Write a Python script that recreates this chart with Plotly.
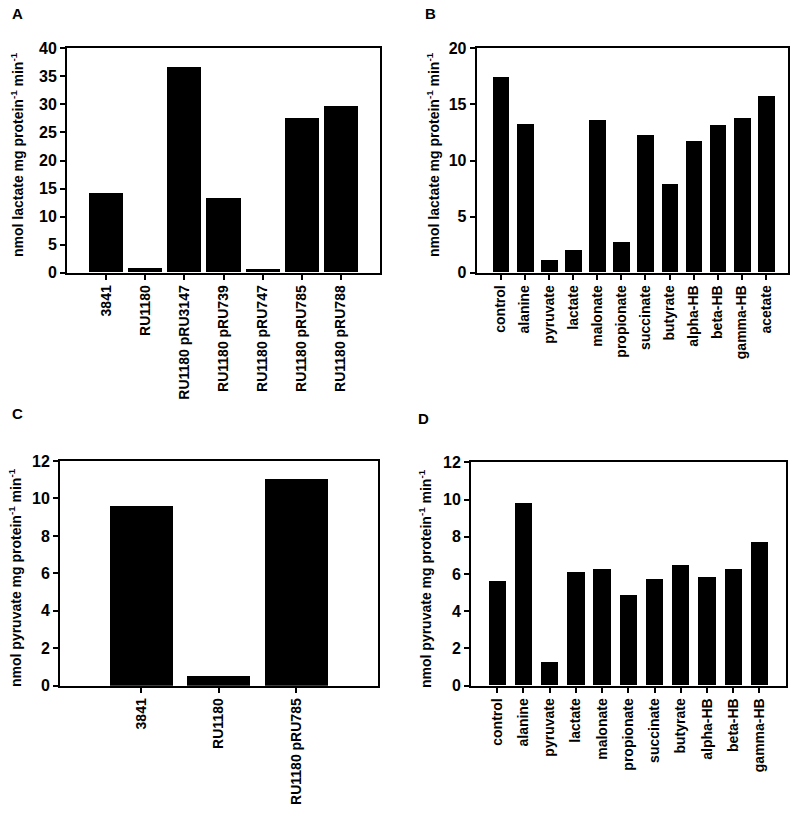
import plotly.graph_objects as go

# Panel A
a_cats = ["3841", "RU1180", "RU1180 pRU3147", "RU1180 pRU739", "RU1180 pRU747", "RU1180 pRU785", "RU1180 pRU788"]
a_vals = [14.1, 0.77, 36.7, 13.2, 0.65, 27.6, 29.7]
# Panel B
b_cats = ["control", "alanine", "pyruvate", "lactate", "malonate", "propionate", "succinate",
          "butyrate", "alpha-HB", "beta-HB", "gamma-HB", "acetate"]
b_vals = [17.4, 13.2, 1.1, 2.0, 13.55, 2.67, 12.27, 7.88, 11.74, 13.14, 13.76, 15.69]
# Panel C
c_cats = ["3841", "RU1180", "RU1180 pRU785"]
c_vals = [9.6, 0.53, 11.04]
# Panel D
d_cats = ["control", "alanine", "pyruvate", "lactate", "malonate", "propionate", "succinate",
          "butyrate", "alpha-HB", "beta-HB", "gamma-HB"]
d_vals = [5.59, 9.8, 1.25, 6.07, 6.27, 4.87, 5.71, 6.48, 5.84, 6.25, 7.70]

W, H = 800, 814
FONT = "Liberation Sans, Arial, sans-serif"

fig = go.Figure()

panels = [
    (a_cats, a_vals, 0.87, (67, 380), (48.3, 272.7), 40, 5, [-1, 7], "A", (17, 14),
     "nmol lactate mg protein<sup>-1</sup> min<sup>-1</sup>", (17, 155)),
    (b_cats, b_vals, 0.69, (476.7, 787.7), (48.3, 272.7), 20, 5, [-1, 11.9], "B", (430, 14),
     "nmol lactate mg protein<sup>-1</sup> min<sup>-1</sup>", (433, 155)),
    (c_cats, c_vals, 0.81, (60, 377.7), (461, 685.7), 12, 2, [-1.05, 3.05], "C", (17, 413),
     "nmol pyruvate mg protein<sup>-1</sup> min<sup>-1</sup>", (15, 578)),
    (d_cats, d_vals, 0.66, (471, 785.7), (462.3, 685.7), 12, 2, [-1, 11], "D", (423, 418),
     "nmol pyruvate mg protein<sup>-1</sup> min<sup>-1</sup>", (425, 579)),
]

def px(x):
    return x / W

def py(y):
    return 1 - y / H

annotations = []
for i, (cats, vals, bw, xd, yd, ymax, dt, xr, letter, lp, title, tp) in enumerate(panels):
    n = "" if i == 0 else str(i + 1)
    xa = "x" + n
    ya = "y" + n
    fig.add_trace(go.Bar(x=cats, y=vals, width=bw, marker=dict(color="black", line=dict(width=0)),
                         xaxis=xa, yaxis=ya, showlegend=False, hoverinfo="skip"))
    axis_common = dict(showline=True, linecolor="black", linewidth=2, mirror=True,
                       showgrid=False, zeroline=False, ticks="outside", ticklen=5,
                       tickwidth=2, tickcolor="black", automargin=False,
                       tickfont=dict(family=FONT, size=14, color="black", weight="bold"))
    fig.update_layout({
        "xaxis" + n: dict(axis_common, domain=[px(xd[0]), px(xd[1])], anchor=ya,
                          type="category", range=xr, tickangle=-90),
        "yaxis" + n: dict(axis_common, domain=[py(yd[1]), py(yd[0])], anchor=xa,
                          range=[0, ymax], dtick=dt, tick0=0,
                          tickfont=dict(family=FONT, size=16, color="black", weight="bold")),
    })
    annotations.append(dict(text="<b>" + letter + "</b>", x=px(lp[0]), y=py(lp[1]),
                            xref="paper", yref="paper", showarrow=False,
                            xanchor="center", yanchor="middle",
                            font=dict(family=FONT, size=15, color="black")))
    annotations.append(dict(text="<b>" + title + "</b>", x=px(tp[0]), y=py(tp[1]),
                            xref="paper", yref="paper", showarrow=False, textangle=-90,
                            xanchor="center", yanchor="middle",
                            font=dict(family=FONT, size=14, color="black")))

fig.update_layout(template="none", width=W, height=H, margin=dict(l=0, r=0, t=0, b=0, autoexpand=False),
                  paper_bgcolor="white", plot_bgcolor="white",
                  annotations=annotations, bargap=0)
fig.write_html("out.html", config={"displayModeBar": False},
               post_script="document.body.style.margin='0';document.body.style.overflow='hidden';")
